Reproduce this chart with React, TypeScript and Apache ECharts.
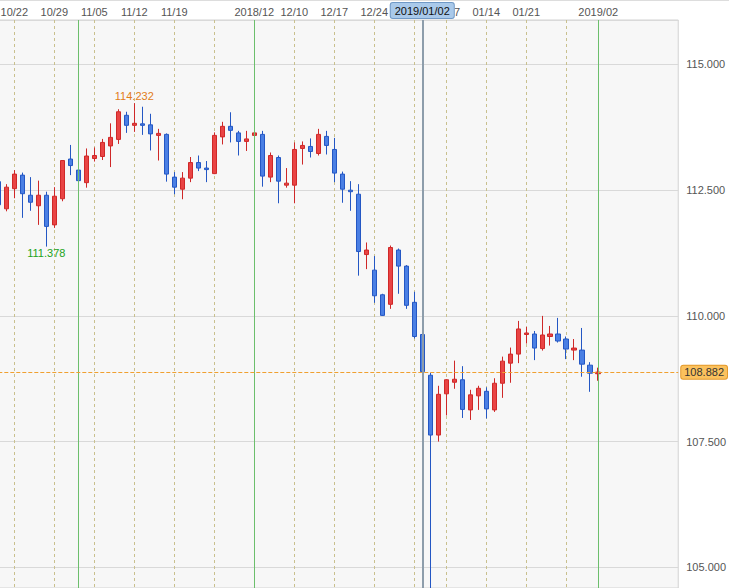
import React, { useEffect, useRef } from 'react';
import * as echarts from 'echarts';

const dates = [
  '2018/10/18', '2018/10/19',
  '2018/10/22', '2018/10/23', '2018/10/24', '2018/10/25', '2018/10/26',
  '2018/10/29', '2018/10/30', '2018/10/31', '2018/11/01', '2018/11/02',
  '2018/11/05', '2018/11/06', '2018/11/07', '2018/11/08', '2018/11/09',
  '2018/11/12', '2018/11/13', '2018/11/14', '2018/11/15', '2018/11/16',
  '2018/11/19', '2018/11/20', '2018/11/21', '2018/11/22', '2018/11/23',
  '2018/11/26', '2018/11/27', '2018/11/28', '2018/11/29', '2018/11/30',
  '2018/12/03', '2018/12/04', '2018/12/05', '2018/12/06', '2018/12/07',
  '2018/12/10', '2018/12/11', '2018/12/12', '2018/12/13', '2018/12/14',
  '2018/12/17', '2018/12/18', '2018/12/19', '2018/12/20', '2018/12/21',
  '2018/12/24', '2018/12/25', '2018/12/26', '2018/12/27', '2018/12/28',
  '2018/12/31', '2019/01/02', '2019/01/03', '2019/01/04',
  '2019/01/07', '2019/01/08', '2019/01/09', '2019/01/10', '2019/01/11',
  '2019/01/14', '2019/01/15', '2019/01/16', '2019/01/17', '2019/01/18',
  '2019/01/21', '2019/01/22', '2019/01/23', '2019/01/24', '2019/01/25',
  '2019/01/28', '2019/01/29', '2019/01/30', '2019/01/31', '2019/02/01',
];

const futureDates = [
  '2019/02/04', '2019/02/05', '2019/02/06', '2019/02/07', '2019/02/08',
  '2019/02/11', '2019/02/12', '2019/02/13', '2019/02/14', '2019/02/15',
];

const openP = [
  112.67, 112.13,
  112.53, 112.80, 112.40, 112.19, 112.40,
  111.81, 112.33, 113.12, 112.90, 112.65,
  113.13, 113.17, 113.38, 113.51, 113.99,
  113.79, 113.82, 113.80, 113.59, 113.61,
  112.76, 112.52, 112.74, 113.05, 112.94,
  112.83, 113.56, 113.77, 113.64, 113.47,
  113.59, 113.61, 112.76, 113.15, 112.60,
  112.60, 113.33, 113.37, 113.23, 113.57,
  113.31, 112.82, 112.50, 112.42, 111.22,
  110.91, 110.42, 110.23, 111.31, 110.99,
  110.27, 109.63, 108.82, 107.63,
  108.45, 108.68, 108.73, 108.13, 108.41,
  108.50, 108.13, 108.66, 109.06, 109.24,
  109.63, 109.64, 109.35, 109.59, 109.64,
  109.54, 109.32, 109.32, 109.02, 108.85,
];

const closeP = [
  112.21, 112.56,
  112.82, 112.43, 112.26, 112.40, 111.78,
  112.38, 113.09, 112.99, 112.69, 113.18,
  113.19, 113.45, 113.55, 114.06, 113.79,
  113.83, 113.79, 113.62, 113.63, 112.82,
  112.56, 112.74, 113.05, 112.94, 112.91,
  113.59, 113.77, 113.69, 113.47, 113.52,
  113.64, 112.78, 113.19, 112.68, 112.64,
  113.31, 113.39, 113.27, 113.61, 113.39,
  112.84, 112.52, 112.47, 111.28, 111.31,
  110.40, 110.01, 111.36, 110.99, 110.21,
  109.59, 108.89, 107.63, 108.44,
  108.73, 108.74, 108.14, 108.43, 108.56,
  108.15, 108.66, 109.10, 109.24, 109.74,
  109.66, 109.36, 109.62, 109.64, 109.50,
  109.34, 109.36, 109.04, 108.86, 108.882,
];

const lowP = [
  112.10, 112.08,
  112.34, 111.95, 112.09, 111.81, 111.378,
  111.75, 112.28, 112.80, 112.57, 112.55,
  113.07, 113.10, 112.96, 113.42, 113.64,
  113.66, 113.60, 113.29, 113.09, 112.67,
  112.42, 112.32, 112.66, 112.88, 112.66,
  112.82, 113.41, 113.45, 113.19, 113.28,
  113.33, 112.57, 112.66, 112.24, 112.55,
  112.24, 113.01, 113.15, 113.19, 113.21,
  112.66, 112.25, 112.09, 110.80, 110.93,
  110.26, 110.00, 110.14, 110.44, 110.14,
  109.55, 108.71, 104.10, 107.50,
  108.02, 108.55, 107.97, 107.93, 108.13,
  107.96, 108.09, 108.37, 108.67, 109.06,
  109.45, 109.12, 109.31, 109.41, 109.47,
  109.14, 109.12, 108.79, 108.49, 108.71,
];

const highP = [
  112.80, 112.62,
  112.90, 112.85, 112.76, 112.69, 112.47,
  112.56, 113.10, 113.40, 113.02, 113.33,
  113.35, 113.52, 113.83, 114.11, 114.06,
  114.232, 114.16, 114.02, 113.72, 113.63,
  112.86, 112.86, 113.16, 113.19, 113.08,
  113.65, 113.86, 114.05, 113.68, 113.68,
  113.84, 113.68, 113.25, 113.19, 112.94,
  113.45, 113.47, 113.53, 113.72, 113.68,
  113.54, 112.87, 112.68, 112.62, 111.46,
  111.19, 110.44, 111.40, 111.34, 111.01,
  110.48, 109.73, 108.87, 108.61,
  108.74, 109.11, 109.00, 108.53, 108.61,
  108.58, 108.76, 109.19, 109.37, 109.90,
  109.78, 109.70, 110.00, 109.80, 109.96,
  109.59, 109.54, 109.76, 109.08, 108.97,
];

const axisLabels: Record<string, string> = {
  '2018/10/22': '10/22',
  '2018/10/29': '10/29',
  '2018/11/05': '11/05',
  '2018/11/12': '11/12',
  '2018/11/19': '11/19',
  '2018/12/03': '2018/12',
  '2018/12/10': '12/10',
  '2018/12/17': '12/17',
  '2018/12/24': '12/24',
  '2019/01/07': '01/07',
  '2019/01/14': '01/14',
  '2019/01/21': '01/21',
  '2019/02/01': '2019/02',
};

const monthStarts = ['2018/11/01', '2018/12/03', '2019/01/02', '2019/02/01'];
const cursorDate = '2019/01/02';
const lastPrice = 108.882;
const maxDate = '2018/11/12';
const maxValue = 114.232;
const minDate = '2018/10/26';
const minValue = 111.378;
const yTicks = [105, 107.5, 110, 112.5, 115];
const yMin = 104.588;
const yMax = 115.885;

const FONT = "'Liberation Sans', Arial, sans-serif";
const SHIFT = 10; // chart div starts 10px left of the page so the first candle can sit partly off-page

export default function App() {
  const ref = useRef<HTMLDivElement>(null);

  useEffect(() => {
    if (!ref.current) return;
    const chart = echarts.init(ref.current, undefined, { renderer: 'svg' });

    const categories = [...dates, ...futureDates];
    const candles = dates.map((_, i) => [openP[i], closeP[i], lowP[i], highP[i]]);
    const isMonday = (d: string) => new Date(d).getDay() === 1;

    const option: any = {
      animation: false,
      backgroundColor: '#ffffff',
      textStyle: { fontFamily: FONT },
      grid: {
        left: SHIFT - 1.7,
        right: 50.7,
        top: 20,
        bottom: 0,
        show: true,
        backgroundColor: '#f7f7f7',
        borderColor: '#d2d2d2',
        borderWidth: 1,
        containLabel: false,
      },
      graphic: [
        {
          type: 'line',
          shape: { x1: 0, y1: 0.5, x2: 729 + SHIFT, y2: 0.5 },
          style: { stroke: '#dddddd', lineWidth: 1 },
          silent: true,
        },
      ],
      xAxis: {
        type: 'category',
        position: 'top',
        data: categories,
        boundaryGap: false,
        axisLine: { show: false },
        axisTick: { show: false },
        axisLabel: {
          interval: 0,
          margin: 3,
          color: '#555555',
          fontSize: 11,
          fontFamily: FONT,
          formatter: (v: string) => axisLabels[v] ?? '',
        },
        splitLine: {
          show: true,
          interval: (index: number, value: string) =>
            index < dates.length && index > 0 && isMonday(value),
          lineStyle: { color: '#c9c08e', width: 1, type: [3, 3] },
        },
      },
      yAxis: {
        type: 'value',
        position: 'right',
        min: yMin,
        max: yMax,
        minInterval: 2.5,
        maxInterval: 2.5,
        axisLine: { show: false },
        axisTick: { show: false },
        axisLabel: {
          margin: 8,
          color: '#555555',
          fontSize: 11,
          fontFamily: FONT,
          showMinLabel: false,
          showMaxLabel: false,
          formatter: (v: number) =>
            yTicks.some((t) => Math.abs(t - v) < 1e-6) ? v.toFixed(3) : '',
        },
        splitLine: { show: true, lineStyle: { color: '#d9d9d9', width: 1 } },
      },
      series: [
        {
          name: 'months',
          type: 'line',
          data: [],
          z: 1,
          silent: true,
          markLine: {
            silent: true,
            symbol: ['none', 'none'],
            label: { show: false },
            lineStyle: { color: '#6cbf6c', width: 1, type: 'solid' },
            data: monthStarts.map((d) => ({ xAxis: d })),
          },
        },
        {
          name: 'USDJPY',
          type: 'candlestick',
          z: 3,
          barWidth: 5,
          data: candles,
          itemStyle: {
            color: '#e94444',
            color0: '#4a7fe4',
            borderColor: '#cf2828',
            borderColor0: '#2457c4',
            borderWidth: 1,
          },
          markPoint: {
            silent: true,
            symbol: 'circle',
            symbolSize: 1,
            itemStyle: { color: 'rgba(0,0,0,0)' },
            label: {
              show: true,
              fontSize: 11,
              fontFamily: FONT,
              formatter: (p: any) => Number(p.value).toFixed(3),
            },
            data: [
              {
                coord: [maxDate, maxValue],
                value: maxValue,
                label: { position: 'top', distance: 1, color: '#e27c18' },
              },
              {
                coord: [minDate, minValue],
                value: minValue,
                label: { position: 'bottom', distance: 0, color: '#21a321' },
              },
            ],
          },
        },
        {
          name: 'cursor',
          type: 'line',
          data: [],
          z: 5,
          silent: true,
          markLine: {
            silent: true,
            symbol: ['none', 'none'],
            data: [
              {
                yAxis: lastPrice,
                lineStyle: { color: '#f0a030', width: 1, type: [4, 2] },
                label: {
                  show: true,
                  position: 'end',
                  distance: 3,
                  formatter: lastPrice.toFixed(3),
                  backgroundColor: '#fbc15d',
                  borderColor: '#e3992b',
                  borderWidth: 1,
                  borderRadius: 2,
                  padding: [1, 3, 1, 3],
                  color: '#333333',
                  fontSize: 11,
                  fontFamily: FONT,
                },
              },
              {
                xAxis: cursorDate,
                lineStyle: { color: '#8d9dab', width: 2, type: 'solid' },
                label: {
                  show: true,
                  position: 'end',
                  distance: 2,
                  formatter: cursorDate,
                  backgroundColor: '#a9c9ea',
                  borderColor: '#7099c6',
                  borderWidth: 1,
                  borderRadius: 2,
                  padding: [2, 4, 2, 4],
                  color: '#111111',
                  fontSize: 11,
                  fontFamily: FONT,
                },
              },
            ],
          },
        },
      ],
    };

    chart.setOption(option);
    return () => chart.dispose();
  }, []);

  return (
    <div
      ref={ref}
      style={{ position: 'fixed', left: -SHIFT, top: 0, width: 729 + SHIFT, height: 588 }}
    />
  );
}
